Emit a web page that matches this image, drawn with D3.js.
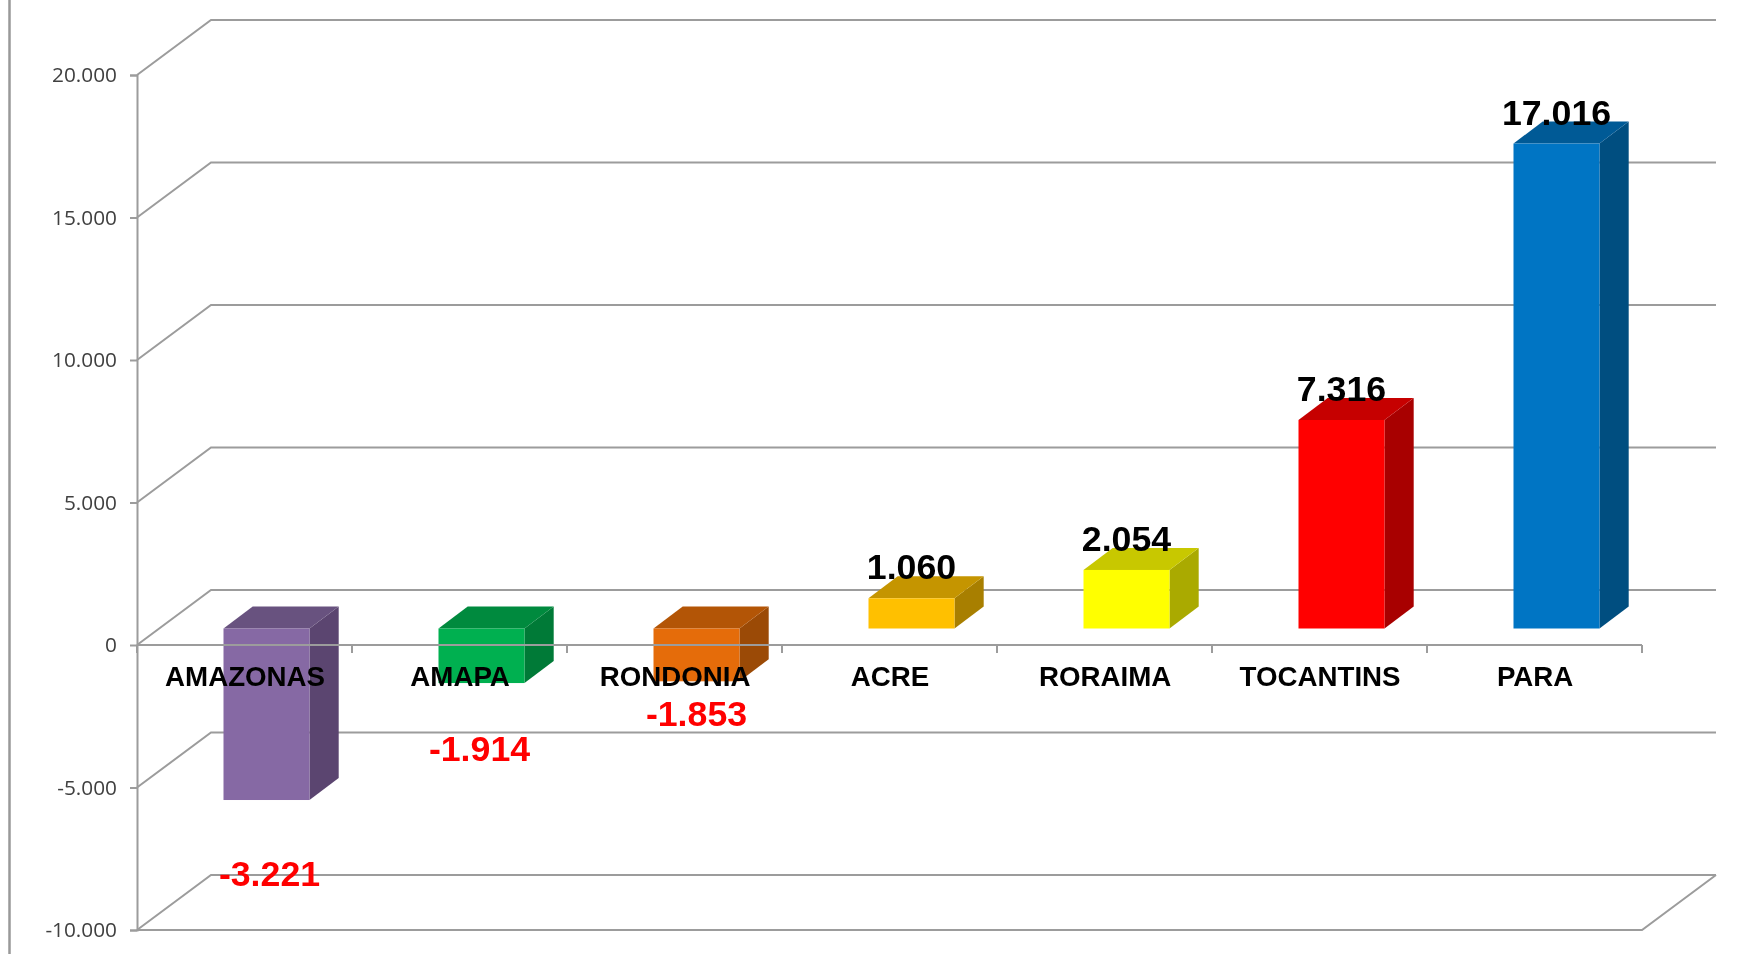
<!DOCTYPE html>
<html>
<head>
<meta charset="utf-8">
<style>
html,body{margin:0;padding:0;background:#fff;overflow:hidden}
svg{display:block;filter:blur(0.45px)}
</style>
<script src="https://cdn.jsdelivr.net/npm/d3@7/dist/d3.min.js"></script>
</head>
<body>
<svg id="chart" width="1754" height="954"></svg>
<script>
// Data
const categories = ["AMAZONAS","AMAPA","RONDONIA","ACRE","RORAIMA","TOCANTINS","PARA"];
// Drawn heights of the bars (the AMAZONAS bar is drawn longer than its printed label says)
const barValues = [-6018,-1914,-1853,1060,2054,7316,17016];
const valueLabels = ["-3.221","-1.914","-1.853","1.060","2.054","7.316","17.016"];
const frontColors = ["#8669A4","#00B050","#E56C0A","#FFC000","#FFFF00","#FF0000","#0075C4"];
const topColors   = ["#68527F","#008A3E","#B35506","#C59500","#C8C800","#C60000","#005A96"];
const sideColors  = ["#5B4570","#007A37","#9B4A06","#A87F00","#AAAA00","#A80000","#004E80"];
const yTickValues = [-10000,-5000,0,5000,10000,15000,20000];

// Layout
const svg = d3.select("#chart");
const GRID = "#9c9c9c";
const left = 137, right = 1642, yMin = 930, yMax = 75;
const wallDX = 74, wallDY = 55;      // depth of the chart box
const barDX = 29.2, barDY = 22;      // depth of each bar
const insetX = 22, insetY = (wallDY - barDY) / 2;
const negLabelDrop = [86, 78, 45];   // hand-placed negative labels, below bar end
const negLabelNudge = [3, -2, 0];    // and sideways

const y = d3.scaleLinear().domain([-10000, 20000]).range([yMin, yMax]);
const x = d3.scaleBand().domain(categories).range([left, right]).paddingInner(0.6).paddingOuter(0.3);
const ptLocale = d3.formatLocale({decimal: ",", thousands: ".", grouping: [3], currency: ["", ""], minus: "-"});
const yFmt = ptLocale.format(",d");

// Outer frame line on the far left
svg.append("line").attr("x1",9.5).attr("x2",9.5).attr("y1",0).attr("y2",954)
   .attr("stroke","#999").attr("stroke-width",2.5);

// Back wall gridlines and side wall diagonals
const grid = svg.append("g").attr("fill","none").attr("stroke",GRID).attr("stroke-width",2);
yTickValues.forEach(v => {
  grid.append("path").attr("d", d3.line()([
    [left, y(v)], [left + wallDX, y(v) - wallDY], [right + wallDX, y(v) - wallDY]
  ]));
});
// Floor
grid.append("path").attr("d", d3.line()([
  [left, yMin], [right, yMin], [right + wallDX, yMin - wallDY]
]));

// Bars
const yBase = y(0) - insetY;
const bars = svg.append("g").selectAll("g").data(categories).join("g");
const fx = c => x(c) + insetX;
const fy = i => y(barValues[i]) - insetY;
bars.each(function(c, i){
  const g = d3.select(this);
  const x0 = fx(c), x1 = x0 + x.bandwidth();
  const yT = Math.min(fy(i), yBase), yB = Math.max(fy(i), yBase);
  const line = d3.line();
  g.append("path").attr("fill", sideColors[i]).attr("d", line([
    [x1,yT],[x1+barDX,yT-barDY],[x1+barDX,yB-barDY],[x1,yB]
  ])+"Z");
  g.append("path").attr("fill", topColors[i]).attr("d", line([
    [x0,yT],[x0+barDX,yT-barDY],[x1+barDX,yT-barDY],[x1,yT]
  ])+"Z");
  g.append("rect").attr("fill", frontColors[i]).attr("x",x0).attr("y",yT)
    .attr("width",x.bandwidth()).attr("height",yB-yT);
});

// Y axis
const yAxis = svg.append("g").attr("transform",`translate(${left},0)`)
  .call(d3.axisLeft(y).tickValues(yTickValues).tickSize(7).tickPadding(13).tickFormat(v => yFmt(v)));
yAxis.selectAll("path,line").attr("stroke",GRID).attr("stroke-width",2);
yAxis.selectAll("text").attr("fill","#404040").attr("font-family","'Open Sans',sans-serif")
     .attr("font-size","20.8px");

// Zero axis with category boundary ticks
const zero = svg.append("g").attr("stroke",GRID).attr("stroke-width",2);
zero.append("line").attr("x1",left).attr("x2",right).attr("y1",y(0)).attr("y2",y(0));
d3.range(categories.length + 1).forEach(k => {
  const tx = left + k * x.step();
  zero.append("line").attr("x1",tx).attr("x2",tx).attr("y1",y(0)).attr("y2",y(0)+8);
});

// Category labels
svg.append("g").selectAll("text").data(categories).join("text")
  .attr("x", c => x(c) + x.bandwidth()/2 + 0.6)
  .attr("y", y(0) + 40.5)
  .attr("text-anchor","middle")
  .attr("font-family","'Liberation Sans',Arial,sans-serif")
  .attr("font-weight","bold").attr("font-size","27.7px").attr("fill","#000")
  .text(c => c);

// Value labels
svg.append("g").selectAll("text").data(valueLabels).join("text")
  .attr("x", (d,i) => fx(categories[i]) + x.bandwidth()/2 + (negLabelNudge[i] || 0))
  .attr("y", (d,i) => barValues[i] < 0 ? fy(i) + negLabelDrop[i] : fy(i) - 19)
  .attr("text-anchor","middle")
  .attr("font-family","'Liberation Sans',Arial,sans-serif")
  .attr("font-weight","bold").attr("font-size","35.7px")
  .attr("fill",(d,i) => barValues[i] < 0 ? "#FF0000" : "#000")
  .text(d => d);
</script>
</body>
</html>
